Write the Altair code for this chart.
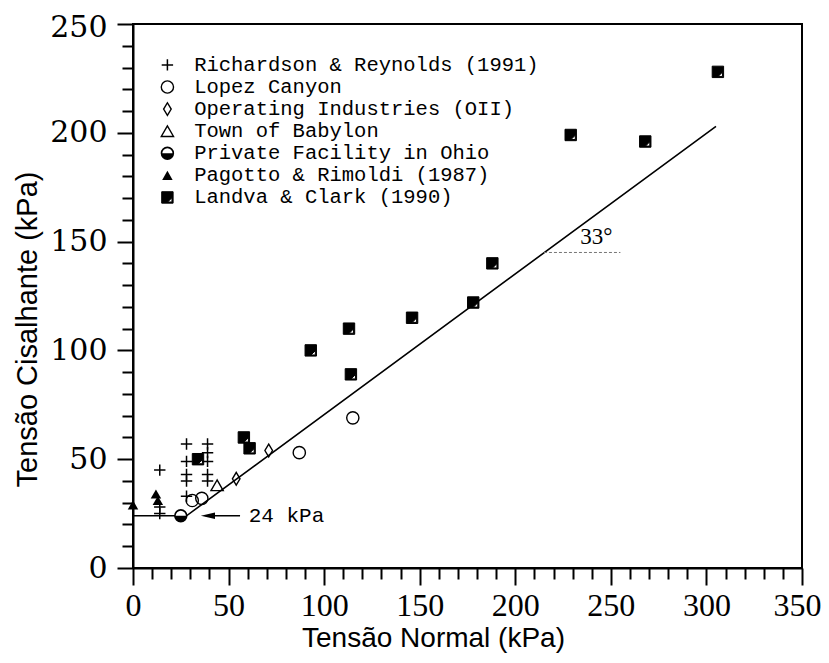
import altair as alt
import pandas as pd

# ---------------- data ----------------
series_names = [
    "Richardson & Reynolds (1991)",
    "Lopez Canyon",
    "Operating Industries (OII)",
    "Town of Babylon",
    "Private Facility in Ohio",
    "Pagotto & Rimoldi (1987)",
    "Landva & Clark (1990)",
]

rr_x = [14, 14, 14, 28, 28, 28, 28, 28, 39, 39, 39, 39, 39]
rr_y = [45, 28, 25, 57, 49, 43, 40, 33, 57, 53, 49, 43, 40]

lc_x = [31, 36, 87, 115]
lc_y = [31, 32, 53, 69]

oii_x = [54, 71]
oii_y = [41, 54]

tb_x = [44]
tb_y = [38]

pf_x = [25]
pf_y = [24]

pr_x = [0, 12, 13]
pr_y = [29, 34, 31]

lac_x = [34, 58, 61, 93, 113, 114, 146, 178, 188, 229, 268, 306]
lac_y = [50, 60, 55, 100, 110, 89, 115, 122, 140, 199, 196, 228]

# failure envelope: 24 kPa cohesion, 33 degree friction angle
env_x = [0, 28, 305]
env_y = [24, 24, 203]

arrow_x = [38, 56]
arrow_y = [24, 24]

angle_ref_x = [215, 255]
angle_ref_y = [145, 145]

annot_text = ["24 kPa", "33°"]
annot_x = [60.5, 234]
annot_y = [24, 152]

x_ticks = list(range(0, 351, 10))
y_ticks = list(range(0, 251, 10))

# legend placement (in data units)
LEG_SYM_X = 18
LEG_TEXT_X = 32
LEG_TOP = 231.2
LEG_STEP = 10.15
leg_y = [LEG_TOP - i * LEG_STEP for i in range(len(series_names))]

# ---------------- shapes ----------------
CROSS = "M-1,0L1,0M0,-1L0,1"
DIAMOND = "M0,-1L0.6,0L0,1L-0.6,0Z"
NOTCH_SQUARE = "M-1,-1L1,-1L1,1L-1,1Z M0.8,0.05L0.05,0.8L0.8,0.8Z"
LOWER_HALF = "M-1,0A1,1 0 0 0 1,0Z"
ARROW_HEAD = "M-1,0L1,-0.45L1,0.45Z"

xs = alt.Scale(domain=[0, 350], nice=False, zero=False)
ys = alt.Scale(domain=[0, 250], nice=False, zero=False)

x_axis = alt.Axis(
    values=x_ticks,
    labelExpr="datum.value % 50 === 0 ? datum.label : ''",
    tickSize={"condition": {"test": "datum.value % 50 === 0", "value": 17}, "value": 11},
    labelOffset={"condition": {"test": "datum.value === 350", "value": -5}, "value": 0},
    tickWidth=2, tickColor="black",
    domainColor="black", domainWidth=2,
    labelFont="Liberation Serif", labelFontSize=32, labelColor="black",
    labelPadding=5, labelFlush=False, labelOverlap=False,
    grid=False,
    title="Tensão Normal (kPa)", titleFont="Liberation Sans", titleFontSize=28,
    titleFontWeight="normal", titleColor="black",
    titleX=300, titleY=70, titleBaseline="middle",
)
y_axis = alt.Axis(
    values=y_ticks,
    labelExpr="datum.value % 50 === 0 ? datum.label : ''",
    tickSize={"condition": {"test": "datum.value % 50 === 0", "value": 16}, "value": 11},
    labelOffset={"condition": {"test": "datum.value === 250", "value": 3}, "value": 0},
    tickWidth=2, tickColor="black",
    domainColor="black", domainWidth=2,
    labelFont="DejaVu Serif", labelFontSize=30, labelColor="black",
    labelPadding=10, labelOverlap=False, labelFlush=False,
    grid=False,
    title="Tensão Cisalhante (kPa)", titleFont="Liberation Sans", titleFontSize=29,
    titleFontWeight="normal", titleColor="black",
    titleX=-106, titleY=305, titleBaseline="middle",
)

X = alt.X("x:Q", scale=xs, axis=x_axis)
Y = alt.Y("y:Q", scale=ys, axis=y_axis)


def series_df(i, xv, yv):
    # data points plus the legend symbol of that series
    return pd.DataFrame({"x": list(xv) + [LEG_SYM_X], "y": list(yv) + [leg_y[i]]})


layers = []

# envelope line
layers.append(
    alt.Chart(pd.DataFrame({"x": env_x, "y": env_y}))
    .mark_line(color="black", strokeWidth=1.6)
    .encode(x=X, y=Y)
)
# arrow
layers.append(
    alt.Chart(pd.DataFrame({"x": arrow_x, "y": arrow_y}))
    .mark_line(color="black", strokeWidth=1.4)
    .encode(x=X, y=Y)
)
layers.append(
    alt.Chart(pd.DataFrame({"x": [arrow_x[0] + 1.2], "y": [arrow_y[0]]}))
    .mark_point(shape=ARROW_HEAD, size=200, filled=True, color="black", opacity=1)
    .encode(x=X, y=Y)
)
# angle reference
layers.append(
    alt.Chart(pd.DataFrame({"x": angle_ref_x, "y": angle_ref_y}))
    .mark_line(color="#777777", strokeWidth=1, strokeDash=[3, 2])
    .encode(x=X, y=Y)
)

# Richardson & Reynolds: crosses
layers.append(
    alt.Chart(series_df(0, rr_x, rr_y))
    .mark_point(shape=CROSS, size=130, filled=False, color="black", strokeWidth=1.5, opacity=1)
    .encode(x=X, y=Y)
)
# Lopez Canyon: open circles
layers.append(
    alt.Chart(series_df(1, lc_x, lc_y))
    .mark_point(shape="circle", size=150, filled=False, color="black", strokeWidth=1.4, opacity=1)
    .encode(x=X, y=Y)
)
# Operating Industries: diamonds
layers.append(
    alt.Chart(series_df(2, oii_x, oii_y))
    .mark_point(shape=DIAMOND, size=160, filled=False, color="black", strokeWidth=1.4, opacity=1)
    .encode(x=X, y=Y)
)
# Town of Babylon: open triangle
layers.append(
    alt.Chart(series_df(3, tb_x, tb_y))
    .mark_point(shape="triangle-up", size=150, filled=False, color="black", strokeWidth=1.4, opacity=1)
    .encode(x=X, y=Y)
)
# Private Facility in Ohio: half filled circle
layers.append(
    alt.Chart(series_df(4, pf_x, pf_y))
    .mark_point(shape="circle", size=140, filled=True, fill="white", stroke="black",
                strokeWidth=1.6, fillOpacity=1, opacity=1)
    .encode(x=X, y=Y)
)
layers.append(
    alt.Chart(series_df(4, pf_x, pf_y))
    .mark_point(shape=LOWER_HALF, size=140, filled=True, color="black", opacity=1)
    .encode(x=X, y=Y)
)
# Pagotto & Rimoldi: filled triangles
layers.append(
    alt.Chart(series_df(5, pr_x, pr_y))
    .mark_point(shape="triangle-up", size=110, filled=True, color="black", opacity=1)
    .encode(x=X, y=Y)
)
# Landva & Clark: notched filled squares
layers.append(
    alt.Chart(series_df(6, lac_x, lac_y))
    .mark_point(shape=NOTCH_SQUARE, size=130, filled=True, fill="black", stroke="black",
                strokeWidth=1, opacity=1)
    .encode(x=X, y=Y)
)

# legend texts
layers.append(
    alt.Chart(pd.DataFrame({"x": [LEG_TEXT_X] * len(series_names), "y": leg_y, "t": series_names}))
    .mark_text(align="left", baseline="middle", font="Liberation Mono", fontSize=20.5, color="black")
    .encode(x=X, y=Y, text="t:N")
)
# annotations
layers.append(
    alt.Chart(pd.DataFrame({"x": annot_x[:1], "y": annot_y[:1], "t": annot_text[:1]}))
    .mark_text(align="left", baseline="middle", font="Liberation Mono", fontSize=21, color="black")
    .encode(x=X, y=Y, text="t:N")
)
layers.append(
    alt.Chart(pd.DataFrame({"x": annot_x[1:], "y": annot_y[1:], "t": annot_text[1:]}))
    .mark_text(align="left", baseline="middle", font="Liberation Serif", fontSize=23, color="black")
    .encode(x=X, y=Y, text="t:N")
)

chart = (
    alt.layer(*layers)
    .properties(
        width=669,
        height=544,
        autosize=alt.AutoSizeParams(type="none"),
        padding={"left": 125, "top": 16, "right": 19, "bottom": 86},
        background="white",
    )
    .configure_view(stroke="black", strokeWidth=2)
)

chart.save("out.html", embed_options={"renderer": "svg", "actions": False})
